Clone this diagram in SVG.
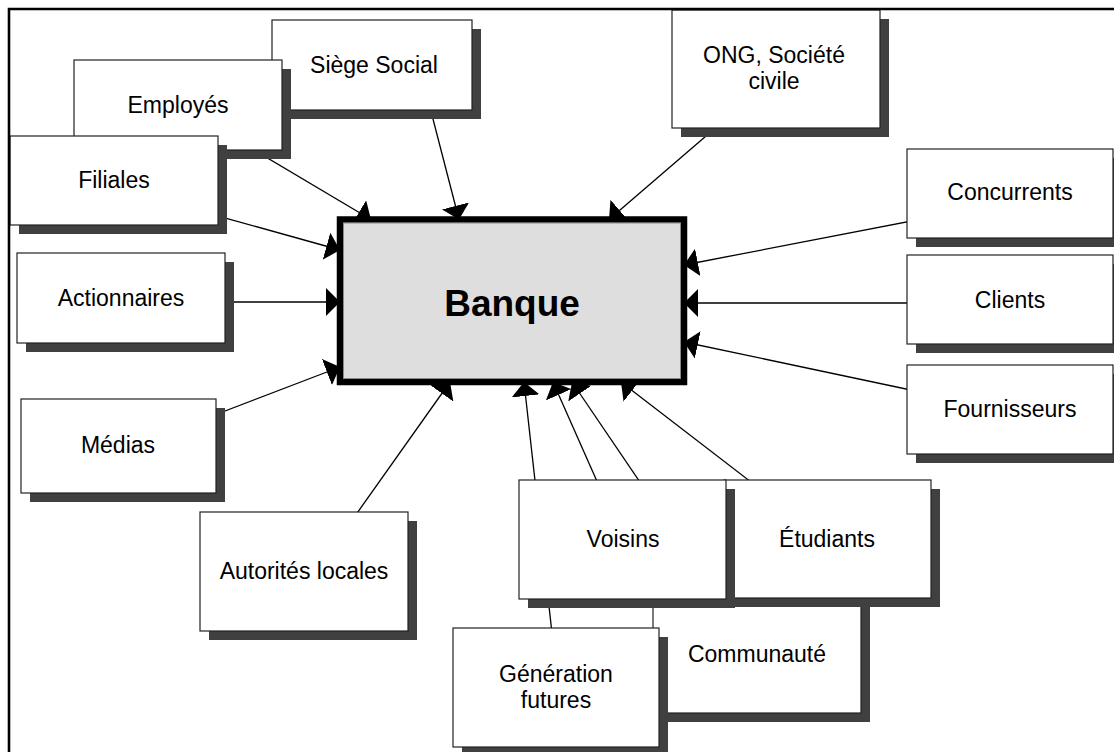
<svg xmlns="http://www.w3.org/2000/svg" width="1114" height="752" viewBox="0 0 1114 752">
  <style>
    .shadow { fill: #404040; }
    .box { fill: #ffffff; stroke: #222222; stroke-width: 1.2; }
    .label { font-family: "Liberation Sans", Arial, sans-serif; font-size: 23px; fill: #000000; text-anchor: middle; }
    .title { font-family: "Liberation Sans", Arial, sans-serif; font-size: 37px; font-weight: bold; fill: #000000; text-anchor: middle; }
    .link { stroke: #000000; stroke-width: 1.3; fill: none; marker-end: url(#head); }
  </style>
  <defs>
    <marker id="head" viewBox="0 0 14 28" refX="14" refY="14" markerWidth="14" markerHeight="28" markerUnits="userSpaceOnUse" orient="auto">
      <path d="M0,0 L14,14 L0,28 Z" fill="#000000"/>
    </marker>
  </defs>

  <rect width="1114" height="752" fill="#ffffff"/>

  <!-- connectors: each stakeholder points at the bank -->
  <g id="connectors">
    <line class="link" x1="419" y1="65" x2="459" y2="219.5"/>
    <line class="link" x1="178" y1="105" x2="371" y2="219.5"/>
    <line class="link" x1="114" y1="187" x2="340" y2="250"/>
    <line class="link" x1="121" y1="302" x2="340" y2="302"/>
    <line class="link" x1="118" y1="452" x2="340" y2="367"/>
    <line class="link" x1="316" y1="571" x2="450" y2="382"/>
    <line class="link" x1="784" y1="69" x2="609" y2="219.5"/>
    <line class="link" x1="1010" y1="202" x2="684" y2="265"/>
    <line class="link" x1="1010" y1="303" x2="684" y2="303"/>
    <line class="link" x1="1010" y1="411" x2="684" y2="342"/>
    <line class="link" x1="558" y1="687" x2="524" y2="382"/>
    <line class="link" x1="623" y1="540" x2="553" y2="382"/>
    <line class="link" x1="758" y1="656" x2="572" y2="382"/>
    <line class="link" x1="825" y1="539" x2="621" y2="382"/>
  </g>

  <g id="banque">
    <rect x="340" y="219.5" width="344" height="162.5" fill="#dedede" stroke="#000000" stroke-width="6.5"/>
    <rect x="343.5" y="223" width="337" height="155.5" fill="none" stroke="#8a8a8a" stroke-width="1"/>
    <text class="title" x="512" y="316">Banque</text>
  </g>

  <g id="siege-social">
    <rect class="shadow" x="281" y="29" width="200" height="90"/>
    <rect class="box" x="272" y="20" width="200" height="90"/>
    <text class="label" x="374" y="73">Siège Social</text>
  </g>
  <g id="employes">
    <rect class="shadow" x="83" y="69" width="208" height="90"/>
    <rect class="box" x="74" y="60" width="208" height="90"/>
    <text class="label" x="178" y="113">Employés</text>
  </g>
  <g id="filiales">
    <rect class="shadow" x="19" y="145" width="208" height="89"/>
    <rect class="box" x="10" y="136" width="208" height="89"/>
    <text class="label" x="114" y="188">Filiales</text>
  </g>
  <g id="actionnaires">
    <rect class="shadow" x="26" y="262" width="208" height="90"/>
    <rect class="box" x="17" y="253" width="208" height="90"/>
    <text class="label" x="121" y="306">Actionnaires</text>
  </g>
  <g id="medias">
    <rect class="shadow" x="30" y="408" width="195" height="94"/>
    <rect class="box" x="21" y="399" width="195" height="94"/>
    <text class="label" x="118" y="453">Médias</text>
  </g>
  <g id="autorites-locales">
    <rect class="shadow" x="209" y="521" width="208" height="119"/>
    <rect class="box" x="200" y="512" width="208" height="119"/>
    <text class="label" x="304" y="579">Autorités locales</text>
  </g>
  <g id="ong">
    <rect class="shadow" x="681" y="19" width="208" height="118"/>
    <rect class="box" x="672" y="10" width="208" height="118"/>
    <text class="label" x="774" y="63">ONG, Société</text>
    <text class="label" x="774" y="89">civile</text>
  </g>
  <g id="concurrents">
    <rect class="shadow" x="916" y="158" width="206" height="89"/>
    <rect class="box" x="907" y="149" width="206" height="89"/>
    <text class="label" x="1010" y="200">Concurrents</text>
  </g>
  <g id="clients">
    <rect class="shadow" x="916" y="264" width="206" height="89"/>
    <rect class="box" x="907" y="255" width="206" height="89"/>
    <text class="label" x="1010" y="308">Clients</text>
  </g>
  <g id="fournisseurs">
    <rect class="shadow" x="916" y="374" width="206" height="89"/>
    <rect class="box" x="907" y="365" width="206" height="89"/>
    <text class="label" x="1010" y="417">Fournisseurs</text>
  </g>
  <g id="communaute">
    <rect class="shadow" x="662" y="607" width="208" height="115"/>
    <rect class="box" x="653" y="598" width="208" height="115"/>
    <text class="label" x="757" y="662">Communauté</text>
  </g>
  <g id="etudiants">
    <rect class="shadow" x="733" y="489" width="207" height="118"/>
    <rect class="box" x="724" y="480" width="207" height="118"/>
    <text class="label" x="827" y="547">Étudiants</text>
  </g>
  <g id="voisins">
    <rect class="shadow" x="528" y="489" width="207" height="119"/>
    <rect class="box" x="519" y="480" width="207" height="119"/>
    <text class="label" x="623" y="547">Voisins</text>
  </g>
  <g id="generation-futures">
    <rect class="shadow" x="462" y="637" width="206" height="119"/>
    <rect class="box" x="453" y="628" width="206" height="119"/>
    <text class="label" x="556" y="682">Génération</text>
    <text class="label" x="556" y="708">futures</text>
  </g>

  <!-- page frame, open on the right and at the bottom -->
  <path d="M9,752 V9 H1114" fill="none" stroke="#000000" stroke-width="2.6"/>
</svg>
